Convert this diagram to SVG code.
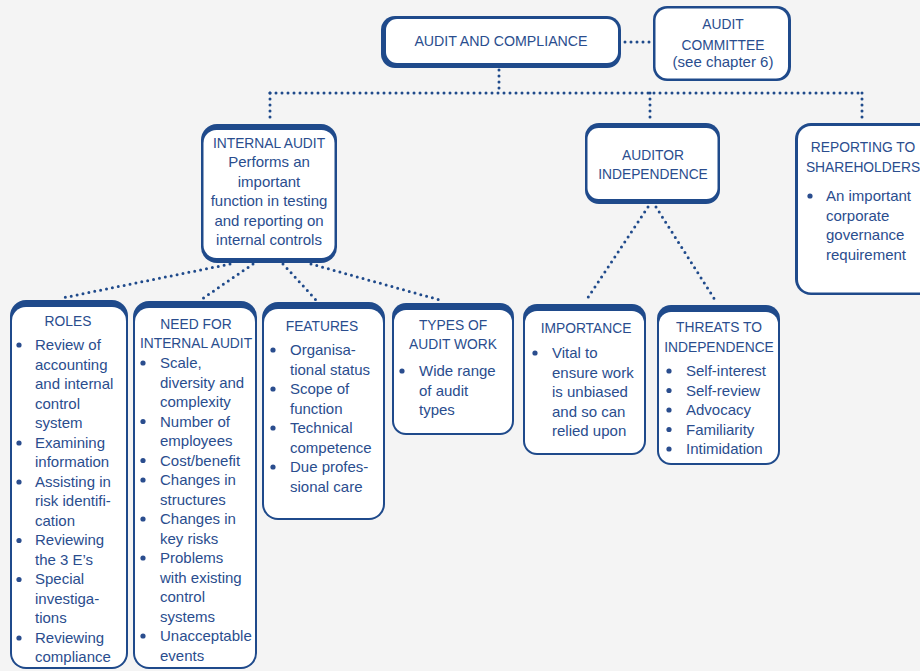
<svg xmlns="http://www.w3.org/2000/svg" width="920" height="671" viewBox="0 0 920 671">
<style>
.o{fill:#1f4a8b}
.i{fill:#ffffff}
.t{font-family:"Liberation Sans",Arial,sans-serif;font-size:15px;fill:#2a4d8e}
.h{font-size:13.8px;text-anchor:middle}
.c{text-anchor:middle}
.b{fill:#2a4d8e}
.d{stroke:#1f4a8b;stroke-width:3;stroke-linecap:round;stroke-dasharray:0 6;fill:none}
</style>
<rect width="920" height="671" fill="#f4f4f4"/>
<g id="connectors">
<line class="d" x1="625" y1="42" x2="650" y2="42"/>
<line class="d" x1="499" y1="70" x2="499" y2="93"/>
<line class="d" x1="270" y1="93" x2="862" y2="93"/>
<line class="d" x1="270" y1="93" x2="270" y2="122"/>
<line class="d" x1="650" y1="93" x2="650" y2="122"/>
<line class="d" x1="862" y1="93" x2="862" y2="122"/>
<line class="d" x1="230" y1="264" x2="62" y2="298"/>
<line class="d" x1="253" y1="264" x2="202" y2="299"/>
<line class="d" x1="283" y1="264" x2="316" y2="300"/>
<line class="d" x1="311" y1="264" x2="440" y2="300"/>
<line class="d" x1="648" y1="207" x2="585" y2="302"/>
<line class="d" x1="656" y1="207" x2="717" y2="303"/>
</g>
<g id="audit-compliance">
<rect class="o" x="381" y="16" width="240" height="52" rx="14"/>
<rect class="i" x="386" y="19" width="232" height="44" rx="11"/>
<text class="t h" x="501" y="46" style="font-size:14.2px">AUDIT AND COMPLIANCE</text>
</g>
<g id="audit-committee">
<rect class="o" x="653" y="6" width="138" height="75" rx="14"/>
<rect class="i" x="655.5" y="8.5" width="132.5" height="70" rx="12"/>
<text class="t h" x="723" y="29">AUDIT</text>
<text class="t h" x="723" y="50">COMMITTEE</text>
<text class="t c" x="723" y="67">(see chapter 6)</text>
</g>
<g id="internal-audit">
<rect class="o" x="201" y="124" width="136" height="139" rx="16"/>
<rect class="i" x="203.5" y="130" width="131" height="128" rx="13"/>
<text class="t h" x="269" y="148">INTERNAL AUDIT</text>
<text class="t c" x="269" y="167">Performs an</text>
<text class="t c" x="269" y="186.5">important</text>
<text class="t c" x="269" y="206">function in testing</text>
<text class="t c" x="269" y="225.5">and reporting on</text>
<text class="t c" x="269" y="245">internal controls</text>
</g>
<g id="auditor-independence">
<rect class="o" x="585" y="123" width="135" height="81" rx="14"/>
<rect class="i" x="587.5" y="128" width="130" height="71" rx="11"/>
<text class="t h" x="653" y="160">AUDITOR</text>
<text class="t h" x="653" y="179">INDEPENDENCE</text>
</g>
<g id="reporting">
<rect class="o" x="795" y="123" width="140" height="172" rx="16"/>
<rect class="i" x="798" y="126" width="134.5" height="166.5" rx="13"/>
<text class="t h" x="863" y="151.5">REPORTING TO</text>
<text class="t h" x="863" y="171.5">SHAREHOLDERS</text>
<circle class="b" cx="810" cy="196" r="2.6"/>
<text class="t" x="826" y="201">An important</text>
<text class="t" x="826" y="220.5">corporate</text>
<text class="t" x="826" y="240">governance</text>
<text class="t" x="826" y="259.5">requirement</text>
</g>
<g id="roles">
<rect class="o" x="10" y="300" width="118" height="369" rx="16"/>
<rect class="i" x="12" y="307" width="114" height="360" rx="14"/>
<text class="t h" x="68" y="326">ROLES</text>
<circle class="b" cx="19" cy="345" r="2.6"/>
<circle class="b" cx="19" cy="443" r="2.6"/>
<circle class="b" cx="19" cy="482" r="2.6"/>
<circle class="b" cx="19" cy="540.5" r="2.6"/>
<circle class="b" cx="19" cy="579.5" r="2.6"/>
<circle class="b" cx="19" cy="638" r="2.6"/>
<text class="t" x="35" y="350">Review of</text>
<text class="t" x="35" y="369.5">accounting</text>
<text class="t" x="35" y="389">and internal</text>
<text class="t" x="35" y="408.5">control</text>
<text class="t" x="35" y="428">system</text>
<text class="t" x="35" y="447.5">Examining</text>
<text class="t" x="35" y="467">information</text>
<text class="t" x="35" y="486.5">Assisting in</text>
<text class="t" x="35" y="506">risk identifi-</text>
<text class="t" x="35" y="525.5">cation</text>
<text class="t" x="35" y="545">Reviewing</text>
<text class="t" x="35" y="564.5">the 3 E’s</text>
<text class="t" x="35" y="584">Special</text>
<text class="t" x="35" y="603.5">investiga-</text>
<text class="t" x="35" y="623">tions</text>
<text class="t" x="35" y="642.5">Reviewing</text>
<text class="t" x="35" y="662">compliance</text>
</g>
<g id="need">
<rect class="o" x="133" y="301" width="124" height="368" rx="16"/>
<rect class="i" x="135" y="308" width="120" height="359" rx="14"/>
<text class="t h" x="196" y="329">NEED FOR</text>
<text class="t h" x="196" y="348">INTERNAL AUDIT</text>
<circle class="b" cx="143" cy="363" r="2.6"/>
<circle class="b" cx="143" cy="421.5" r="2.6"/>
<circle class="b" cx="143" cy="460.5" r="2.6"/>
<circle class="b" cx="143" cy="480" r="2.6"/>
<circle class="b" cx="143" cy="519" r="2.6"/>
<circle class="b" cx="143" cy="558" r="2.6"/>
<circle class="b" cx="143" cy="636" r="2.6"/>
<text class="t" x="160" y="368">Scale,</text>
<text class="t" x="160" y="387.5">diversity and</text>
<text class="t" x="160" y="407">complexity</text>
<text class="t" x="160" y="426.5">Number of</text>
<text class="t" x="160" y="446">employees</text>
<text class="t" x="160" y="465.5">Cost/benefit</text>
<text class="t" x="160" y="485">Changes in</text>
<text class="t" x="160" y="504.5">structures</text>
<text class="t" x="160" y="524">Changes in</text>
<text class="t" x="160" y="543.5">key risks</text>
<text class="t" x="160" y="563">Problems</text>
<text class="t" x="160" y="582.5">with existing</text>
<text class="t" x="160" y="602">control</text>
<text class="t" x="160" y="621.5">systems</text>
<text class="t" x="160" y="641">Unacceptable</text>
<text class="t" x="160" y="660.5">events</text>
</g>
<g id="features">
<rect class="o" x="262" y="302" width="123" height="218" rx="16"/>
<rect class="i" x="264" y="309" width="119" height="209" rx="14"/>
<text class="t h" x="322" y="331">FEATURES</text>
<circle class="b" cx="273" cy="350" r="2.6"/>
<circle class="b" cx="273" cy="389" r="2.6"/>
<circle class="b" cx="273" cy="428" r="2.6"/>
<circle class="b" cx="273" cy="467" r="2.6"/>
<text class="t" x="290" y="355">Organisa-</text>
<text class="t" x="290" y="374.5">tional status</text>
<text class="t" x="290" y="394">Scope of</text>
<text class="t" x="290" y="413.5">function</text>
<text class="t" x="290" y="433">Technical</text>
<text class="t" x="290" y="452.5">competence</text>
<text class="t" x="290" y="472">Due profes-</text>
<text class="t" x="290" y="491.5">sional care</text>
</g>
<g id="types">
<rect class="o" x="392" y="303" width="122" height="132" rx="14"/>
<rect class="i" x="394" y="310" width="118" height="123" rx="12"/>
<text class="t h" x="453" y="330">TYPES OF</text>
<text class="t h" x="453" y="349">AUDIT WORK</text>
<circle class="b" cx="402" cy="371" r="2.6"/>
<text class="t" x="419" y="376">Wide range</text>
<text class="t" x="419" y="395.5">of audit</text>
<text class="t" x="419" y="415">types</text>
</g>
<g id="importance">
<rect class="o" x="523" y="304" width="123" height="151" rx="14"/>
<rect class="i" x="525" y="311" width="119" height="142" rx="12"/>
<text class="t h" x="586" y="333">IMPORTANCE</text>
<circle class="b" cx="535" cy="353" r="2.6"/>
<text class="t" x="552" y="358">Vital to</text>
<text class="t" x="552" y="377.5">ensure work</text>
<text class="t" x="552" y="397">is unbiased</text>
<text class="t" x="552" y="416.5">and so can</text>
<text class="t" x="552" y="436">relied upon</text>
</g>
<g id="threats">
<rect class="o" x="657" y="305" width="123" height="160" rx="14"/>
<rect class="i" x="659" y="312" width="119" height="151" rx="12"/>
<text class="t h" x="719" y="332">THREATS TO</text>
<text class="t h" x="719" y="352">INDEPENDENCE</text>
<circle class="b" cx="669" cy="371" r="2.6"/>
<circle class="b" cx="669" cy="390.5" r="2.6"/>
<circle class="b" cx="669" cy="410" r="2.6"/>
<circle class="b" cx="669" cy="429.5" r="2.6"/>
<circle class="b" cx="669" cy="449" r="2.6"/>
<text class="t" x="686" y="376">Self-interest</text>
<text class="t" x="686" y="395.5">Self-review</text>
<text class="t" x="686" y="415">Advocacy</text>
<text class="t" x="686" y="434.5">Familiarity</text>
<text class="t" x="686" y="454">Intimidation</text>
</g>
</svg>
